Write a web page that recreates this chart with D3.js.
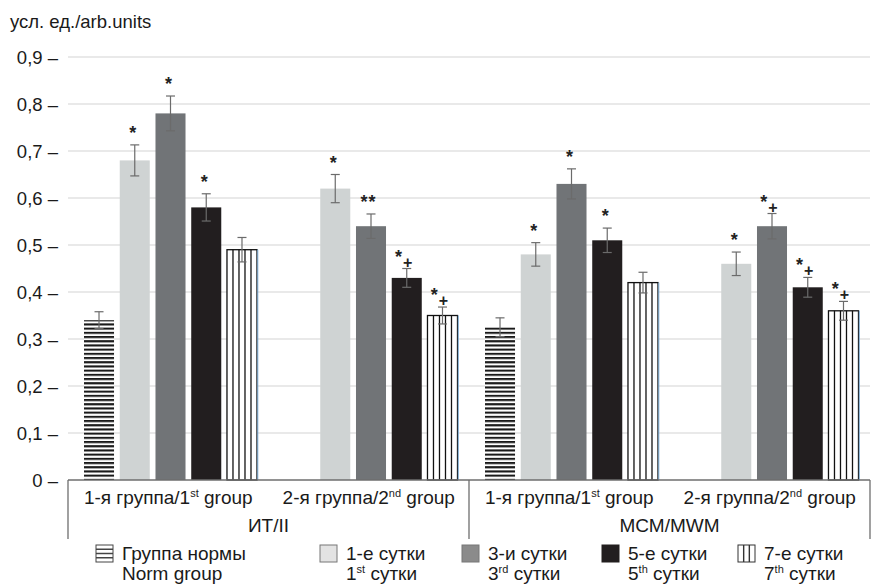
<!DOCTYPE html>
<html>
<head>
<meta charset="utf-8">
<script src="https://cdn.jsdelivr.net/npm/d3@7"></script>
<style>
  body { margin: 0; background: #fff; }
  svg { font-family: "Liberation Sans", Arial, sans-serif; }
</style>
</head>
<body>
<div id="chart"></div>
<script>
// categories: [main text, superscript, rest]
const categories = [
    ["1-я группа/1", "st", " group"],
    ["2-я группа/2", "nd", " group"],
    ["1-я группа/1", "st", " group"],
    ["2-я группа/2", "nd", " group"]
];
const methods = ["ИТ/II", "МСМ/MWM"];
const series = ["norm", "d1", "d3", "d5", "d7"];

// values per category, order = series (null = no bar)
const values = [
    [0.34, 0.68, 0.78, 0.58, 0.49],
    [null, 0.62, 0.54, 0.43, 0.35],
    [0.325, 0.48, 0.63, 0.51, 0.42],
    [null, 0.46, 0.54, 0.41, 0.36]
];
const errors = [
    [0.018, 0.033, 0.037, 0.029, 0.026],
    [null, 0.03, 0.026, 0.02, 0.018],
    [0.02, 0.025, 0.032, 0.026, 0.022],
    [null, 0.025, 0.027, 0.021, 0.02]
];
const markers = [
    ["", "*", "*", "*", ""],
    ["", "*", "**", "*+", "*+"],
    ["", "*", "*", "*", ""],
    ["", "*", "*+", "*+", "*+"]
];
const yTicks = [0, 0.1, 0.2, 0.3, 0.4, 0.5, 0.6, 0.7, 0.8, 0.9];

// legend labels: [line1, line2 main, line2 sup, line2 rest]
const legendLabels = [
    ["Группа нормы", "Norm group", "", ""],
    ["1-е сутки", "1", "st", " сутки"],
    ["3-и сутки", "3", "rd", " сутки"],
    ["5-е сутки", "5", "th", " сутки"],
    ["7-е сутки", "7", "th", " сутки"]
];

const width = 874, height = 588;
const svg = d3.select("#chart").append("svg")
    .attr("width", width)
    .attr("height", height);

// patterns
const defs = svg.append("defs");
const hp = defs.append("pattern")
    .attr("id", "hstripe")
    .attr("patternUnits", "userSpaceOnUse")
    .attr("width", 8).attr("height", 4.2);
hp.append("rect").attr("width", 8).attr("height", 4.2).attr("fill", "#fff");
hp.append("rect").attr("width", 8).attr("height", 2.1).attr("fill", "#1a1a1a");

const fills = {
    norm: "url(#hstripe)",
    d1: "#cfd3d3",
    d3: "#717477",
    d5: "#221e1f",
    d7: "#fff"
};

const y = d3.scaleLinear().domain([0, 0.9]).range([480, 57]);
const x0 = d3.scaleBand().domain(d3.range(categories.length)).range([68, 870]);
const x1 = d3.scaleBand().domain(series).range([16, 189]).paddingInner(0.16);

// gridlines
svg.append("g").selectAll("line")
    .data(yTicks.filter(d => d > 0))
    .join("line")
    .attr("x1", 68).attr("x2", 870)
    .attr("y1", d => y(d)).attr("y2", d => y(d))
    .attr("stroke", "#e2e2e2")
    .attr("stroke-width", 1.5);

// y tick labels
const fmt = d => d === 0 ? "0" : d3.format(".1f")(d).replace(".", ",");
svg.append("g").selectAll("text")
    .data(yTicks)
    .join("text")
    .attr("x", 58)
    .attr("y", d => y(d) + 6.5)
    .attr("text-anchor", "end")
    .attr("font-size", 18.5)
    .attr("fill", "#1a1a1a")
    .text(d => fmt(d) + " –");

svg.append("text")
    .attr("x", 10).attr("y", 28)
    .attr("font-size", 18.5)
    .attr("fill", "#1a1a1a")
    .text("усл. ед./arb.units");

// bars
const bars = [];
categories.forEach((c, ci) => {
    series.forEach((s, si) => {
        if (values[ci][si] == null) return;
        bars.push({ci, s, v: values[ci][si], e: errors[ci][si], m: markers[ci][si]});
    });
});

const g = svg.append("g");
g.selectAll("rect.bar")
    .data(bars)
    .join("rect")
    .attr("class", "bar")
    .attr("x", d => x0(d.ci) + x1(d.s))
    .attr("width", x1.bandwidth())
    .attr("y", d => y(d.v))
    .attr("height", d => y(0) - y(d.v))
    .attr("fill", d => fills[d.s])
    .attr("stroke", d => d.s === "d7" ? "#111" : "none")
    .attr("stroke-width", 1.3);

// vertical stripes inside 7th day bars
const d7 = bars.filter(d => d.s === "d7");
d7.forEach(d => {
    const bx = x0(d.ci) + x1(d.s);
    const bw = x1.bandwidth();
    [1, 2, 3, 4].forEach(k => {
        g.append("line")
            .attr("x1", bx + bw * k / 5).attr("x2", bx + bw * k / 5)
            .attr("y1", y(d.v)).attr("y2", y(0))
            .attr("stroke", "#111").attr("stroke-width", 1.3);
    });
    g.append("line")
        .attr("x1", bx + bw + 0.8).attr("x2", bx + bw + 0.8)
        .attr("y1", y(d.v)).attr("y2", y(0))
        .attr("stroke", "#7fb0d8").attr("stroke-width", 1);
});

// error bars
const eb = g.selectAll("g.err").data(bars).join("g").attr("class", "err")
    .attr("transform", d => `translate(${x0(d.ci) + x1(d.s) + x1.bandwidth() / 2},0)`);
eb.append("line")
    .attr("y1", d => y(d.v + d.e)).attr("y2", d => y(d.v - d.e))
    .attr("stroke", "#6b6b6b").attr("stroke-width", 1.2);
eb.append("line")
    .attr("x1", -4.5).attr("x2", 4.5)
    .attr("y1", d => y(d.v + d.e)).attr("y2", d => y(d.v + d.e))
    .attr("stroke", "#6b6b6b").attr("stroke-width", 1.2);
eb.append("line")
    .attr("x1", -4.5).attr("x2", 4.5)
    .attr("y1", d => y(d.v - d.e)).attr("y2", d => y(d.v - d.e))
    .attr("stroke", "#6b6b6b").attr("stroke-width", 1.2);

// significance markers
const mk = eb.filter(d => d.m !== "").append("text")
    .attr("x", d => d.m.length > 1 ? -3 : -2)
    .attr("y", d => y(d.v + d.e) - 6)
    .attr("text-anchor", "middle")
    .attr("font-size", 18)
    .attr("font-weight", "bold")
    .attr("fill", "#222");
mk.append("tspan").text("*");
mk.filter(d => d.m.length > 1).append("tspan")
    .attr("dx", 1)
    .attr("dy", d => d.m[1] === "+" ? 5 : 0)
    .attr("font-size", d => d.m[1] === "+" ? 16 : 18)
    .text(d => d.m[1]);

// category axis
const axisColor = "#6e6e6e";
svg.append("line")
    .attr("x1", 68).attr("x2", 870)
    .attr("y1", y(0)).attr("y2", y(0))
    .attr("stroke", axisColor).attr("stroke-width", 1.3);
[68, 469, 870].forEach(px => {
    svg.append("line")
        .attr("x1", px).attr("x2", px)
        .attr("y1", y(0)).attr("y2", 539)
        .attr("stroke", axisColor).attr("stroke-width", 1.3);
});

const cl = svg.append("g").selectAll("text")
    .data(categories)
    .join("text")
    .attr("x", (d, i) => x0(i) + x0.bandwidth() / 2)
    .attr("y", 504)
    .attr("text-anchor", "middle")
    .attr("font-size", 19)
    .attr("fill", "#1a1a1a");
cl.append("tspan").text(d => d[0]);
cl.append("tspan").attr("font-size", 11).attr("dy", -7).text(d => d[1]);
cl.append("tspan").attr("dy", 7).text(d => d[2]);

svg.append("g").selectAll("text")
    .data(methods)
    .join("text")
    .attr("x", (d, i) => x0(i * 2) + x0.bandwidth())
    .attr("y", 532)
    .attr("text-anchor", "middle")
    .attr("font-size", 19)
    .attr("fill", "#1a1a1a")
    .text(d => d);

// legend
const legendX = [96, 320, 462, 602, 738];
const sw = 17;
const lg = svg.append("g").selectAll("g")
    .data(series)
    .join("g")
    .attr("transform", (d, i) => `translate(${legendX[i]},545)`);

lg.each(function (s, i) {
    const el = d3.select(this);
    if (s === "norm") {
        el.append("rect").attr("width", sw).attr("height", sw)
            .attr("fill", "#fff").attr("stroke", "#444");
        [sw / 4, sw / 2, sw * 3 / 4].forEach(yy => el.append("line")
            .attr("x1", 0).attr("x2", sw).attr("y1", yy).attr("y2", yy)
            .attr("stroke", "#444").attr("stroke-width", 1.5));
    } else if (s === "d7") {
        el.append("rect").attr("width", sw).attr("height", sw)
            .attr("fill", "#fff").attr("stroke", "#333");
        [sw / 3, sw * 2 / 3].forEach(xx => el.append("line")
            .attr("x1", xx).attr("x2", xx).attr("y1", 0).attr("y2", sw)
            .attr("stroke", "#333").attr("stroke-width", 1.4));
    } else {
        const lf = {d1: "#e3e3e3", d3: "#8b8b8b", d5: "#221e1f"}[s];
        el.append("rect").attr("width", sw).attr("height", sw)
            .attr("fill", lf).attr("stroke", s === "d5" ? "#221e1f" : "#777");
    }
    const t = legendLabels[i];
    el.append("text").attr("x", sw + 9).attr("y", 15)
        .attr("font-size", 19).attr("fill", "#1a1a1a").text(t[0]);
    const t2 = el.append("text").attr("x", sw + 9).attr("y", 35)
        .attr("font-size", 19).attr("fill", "#1a1a1a");
    t2.append("tspan").text(t[1]);
    if (t[2]) {
        t2.append("tspan").attr("font-size", 11).attr("dy", -7).text(t[2]);
        t2.append("tspan").attr("dy", 7).text(t[3]);
    }
});
</script>
</body>
</html>
